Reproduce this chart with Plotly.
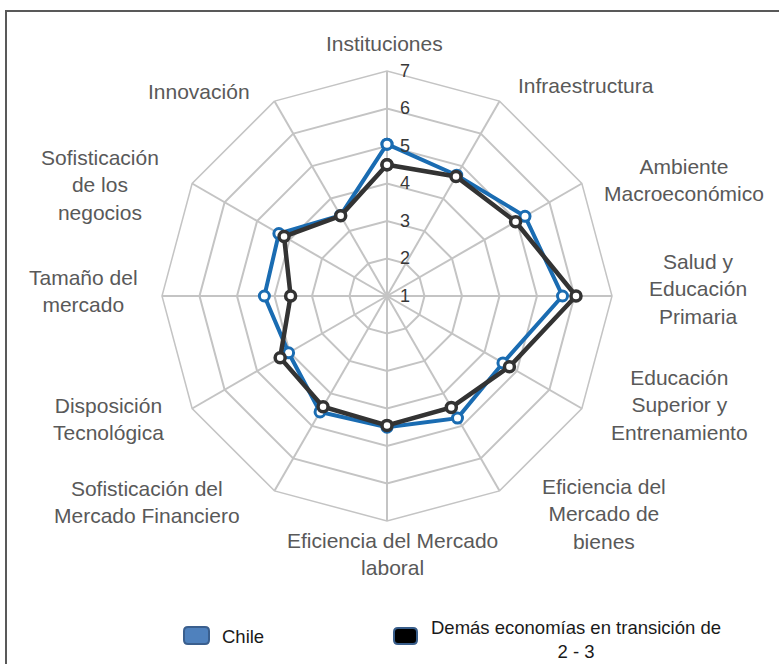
import plotly.graph_objects as go

W, H = 779, 664

categories = [
    "Instituciones", "Infraestructura", "Ambiente Macroeconómico",
    "Salud y Educación Primaria", "Educación Superior y Entrenamiento",
    "Eficiencia del Mercado de bienes", "Eficiencia del Mercado laboral",
    "Sofisticación del Mercado Financiero", "Disposición Tecnológica",
    "Tamaño del mercado", "Sofisticación de los negocios", "Innovación",
]
chile = [5.05, 4.72, 5.25, 5.68, 4.57, 4.76, 4.5, 4.57, 4.03, 4.27, 4.33, 3.48]
transicion = [4.5, 4.68, 4.96, 6.04, 4.77, 4.43, 4.45, 4.41, 4.29, 3.57, 4.17, 3.47]
radial_ticks = [1, 2, 3, 4, 5, 6, 7]

series_names = ["Chile", "Demás economías en transición de<br>2 - 3"]

# label text (with line breaks) and label anchor positions in pixels (layout only)
label_text = [
    "Instituciones", "Infraestructura", "Ambiente<br>Macroeconómico",
    "Salud y<br>Educación<br>Primaria", "Educación<br>Superior y<br>Entrenamiento",
    "Eficiencia del<br>Mercado de<br>bienes", "Eficiencia del Mercado<br>laboral",
    "Sofisticación del<br>Mercado Financiero", "Disposición<br>Tecnológica",
    "Tamaño del<br>mercado", "Sofisticación<br>de los<br>negocios", "Innovación",
]
label_pos = [
    (384, 43), (586, 85), (684, 180), (698, 289), (679, 405), (604, 514),
    (392, 554), (147, 502), (108, 419), (83, 291), (100, 185), (199, 92),
]


def px(x):
    return x / W


def py(y):
    return 1 - y / H


def closed(v):
    return list(v) + [v[0]]


fig = go.Figure()
fig.add_trace(go.Scatterpolar(
    r=closed(chile), theta=closed(categories), mode="lines+markers",
    name=series_names[0],
    line=dict(color="#1a6cb2", width=4),
    marker=dict(size=10, color="white", line=dict(color="#1a6cb2", width=3)),
    showlegend=False,
))
fig.add_trace(go.Scatterpolar(
    r=closed(transicion), theta=closed(categories), mode="lines+markers",
    name=series_names[1],
    line=dict(color="#333333", width=4.5),
    marker=dict(size=10, color="white", line=dict(color="#333333", width=3.5)),
    showlegend=False,
))

cx, cy, R = 387, 296, 225
fig.update_layout(
    width=W, height=H,
    margin=dict(l=0, r=0, t=0, b=0),
    paper_bgcolor="white",
    font=dict(family="Liberation Sans, Arial, sans-serif"),
    polar=dict(
        domain=dict(x=[px(cx - R), px(cx + R)], y=[py(cy + R), py(cy - R)]),
        bgcolor="white",
        gridshape="linear",
        angularaxis=dict(
            type="category", rotation=90, direction="clockwise",
            showticklabels=False, ticks="",
            gridcolor="#c4c4c4", gridwidth=1.5,
            showline=True, linecolor="#c4c4c4", linewidth=1.5,
        ),
        radialaxis=dict(
            range=[1, 7], tickvals=radial_ticks, ticktext=[str(t) for t in radial_ticks],
            angle=90, tickangle=90, side="clockwise",
            showline=False, gridcolor="#c4c4c4", gridwidth=1.5,
            ticks="outside", ticklen=9, tickcolor="rgba(0,0,0,0)",
            tickfont=dict(size=18, color="#383838", family="Liberation Sans Narrow, Liberation Sans, Arial"),
        ),
    ),
)

annotations = []
for t, (x, y) in zip(label_text, label_pos):
    annotations.append(dict(
        x=px(x), y=py(y), xref="paper", yref="paper", text=t, showarrow=False,
        xanchor="center", yanchor="middle", align="center",
        font=dict(size=21, color="#595959"),
    ))

# legend texts
annotations.append(dict(x=px(220), y=py(636), xref="paper", yref="paper", text=series_names[0],
                        showarrow=False, xanchor="left", yanchor="middle",
                        font=dict(size=18.5, color="#1a1a1a")))
annotations.append(dict(x=px(576), y=py(639), xref="paper", yref="paper", text=series_names[1],
                        showarrow=False, xanchor="center", yanchor="middle", align="center",
                        font=dict(size=18.5, color="#1a1a1a")))
fig.update_layout(annotations=annotations)


def rounded_rect(x0, y0, x1, y1, r):
    X0, X1 = px(x0), px(x1)
    Y0, Y1 = py(y0), py(y1)
    rx, ry = r / W, r / H
    return (f"M {X0+rx},{Y0} L {X1-rx},{Y0} Q {X1},{Y0} {X1},{Y0-ry} "
            f"L {X1},{Y1+ry} Q {X1},{Y1} {X1-rx},{Y1} L {X0+rx},{Y1} "
            f"Q {X0},{Y1} {X0},{Y1+ry} L {X0},{Y0-ry} Q {X0},{Y0} {X0+rx},{Y0} Z")


shapes = [
    dict(type="rect", xref="paper", yref="paper", x0=px(6), x1=1.02, y0=-0.02, y1=py(11),
         line=dict(color="#595959", width=2), fillcolor="rgba(0,0,0,0)", layer="below"),
    dict(type="path", xref="paper", yref="paper", path=rounded_rect(184, 627, 209, 644, 4),
         fillcolor="#4f81bd", line=dict(color="#3a5f8e", width=2)),
    dict(type="path", xref="paper", yref="paper", path=rounded_rect(394, 628, 417, 644, 4),
         fillcolor="#000000", line=dict(color="#385d8a", width=2)),
]
fig.update_layout(shapes=shapes)

fig.write_html(
    "out.html",
    config={"displayModeBar": False},
    post_script="document.body.style.margin='0';document.body.style.overflow='hidden';",
)
